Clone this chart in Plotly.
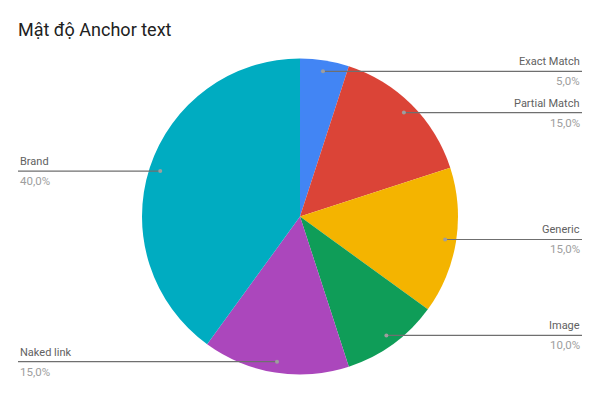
import math
import plotly.graph_objects as go

# chart data
title_text = "Mật độ Anchor text"
labels = ["Exact Match", "Partial Match", "Generic", "Image", "Naked link", "Brand"]
values = [5, 15, 15, 10, 15, 40]
colors = ["#4285F4", "#DB4437", "#F4B400", "#0F9D58", "#AB47BC", "#00ACC1"]

W, H = 600, 400
cx, cy, r = 300, 216.5, 158  # pie centre / radius in px


def px_x(x):
	return x / W


def px_y(y):
	return 1 - y / H


fig = go.Figure(go.Pie(
	labels=labels, values=values, sort=False, direction="clockwise", rotation=0,
	marker=dict(colors=colors, line=dict(width=0)),
	textinfo="none", hoverinfo="label+percent", showlegend=False,
	domain=dict(x=[px_x(cx - r), px_x(cx + r)], y=[px_y(cy + r), px_y(cy - r)]),
))

# labels outside with leader lines, positions worked out from the slice angles
total = sum(values)
shapes = []
annotations = []
acc = 0
for name, v in zip(labels, values):
	mid = (acc + v / 2) / total * 2 * math.pi
	acc += v
	dx = cx + math.sin(mid) * r * 0.93
	dy = cy - math.cos(mid) * r * 0.93
	right = math.sin(mid) >= 0
	edge = 582 if right else 18
	pct = "{:.1f}%".format(v / total * 100).replace(".", ",")
	shapes.append(dict(type="line", xref="paper", yref="paper",
		x0=px_x(dx), y0=px_y(dy), x1=px_x(edge), y1=px_y(dy),
		line=dict(color="#6f6f6f", width=1.2)))
	shapes.append(dict(type="circle", xref="paper", yref="paper",
		x0=px_x(dx - 2), y0=px_y(dy - 2), x1=px_x(dx + 2), y1=px_y(dy + 2),
		fillcolor="#9e9e9e", line=dict(width=0)))
	anchor = "right" if right else "left"
	annotations.append(dict(text=name, xref="paper", yref="paper", x=px_x(edge), y=px_y(dy - 1),
		xanchor=anchor, yanchor="bottom", showarrow=False,
		font=dict(family="Roboto", size=11, color="#616161")))
	annotations.append(dict(text=pct, xref="paper", yref="paper", x=px_x(edge), y=px_y(dy + 1),
		xanchor=anchor, yanchor="top", showarrow=False,
		font=dict(family="Roboto", size=11.5, color="#9e9e9e")))

fig.update_layout(
	width=W, height=H, margin=dict(l=0, r=0, t=0, b=0),
	paper_bgcolor="white", plot_bgcolor="white",
	title=dict(text=title_text, x=px_x(18), xanchor="left", y=px_y(30), yanchor="middle",
		font=dict(family="Roboto", size=18, color="#212121")),
	shapes=shapes, annotations=annotations,
)

# drop the default page margin so the 600x400 figure sits at the window origin
fig.write_html("out.html", config={"displayModeBar": False},
	post_script="document.body.style.margin='0';")
